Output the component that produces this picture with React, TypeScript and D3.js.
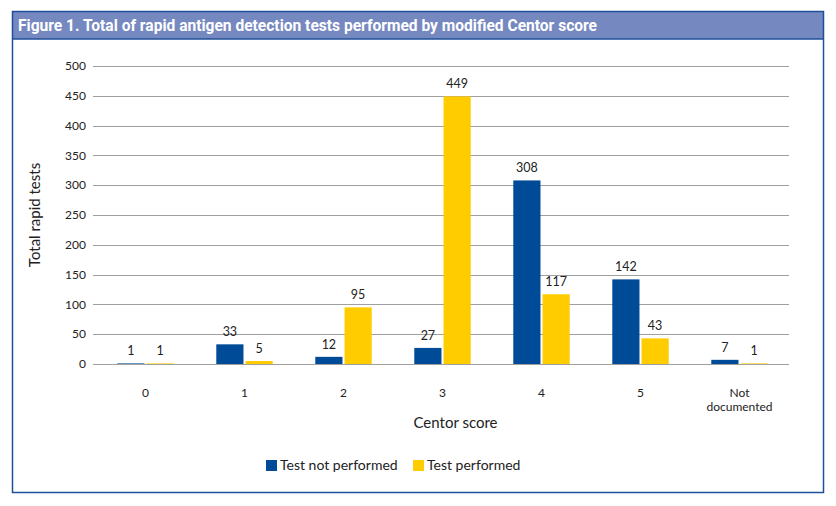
import React, { useEffect, useRef } from 'react';
import * as d3 from 'd3';

const categories = ['0', '1', '2', '3', '4', '5', 'Not documented'];
const seriesNames = ['Test not performed', 'Test performed'];
const notPerformed = [1, 33, 12, 27, 308, 142, 7];
const performed = [1, 5, 95, 449, 117, 43, 1];
const yTicks = [0, 50, 100, 150, 200, 250, 300, 350, 400, 450, 500];
const seriesColors = ['#004b98', '#ffcc00'];

const titleText = 'Figure 1. Total of rapid antigen detection tests performed by modified Centor score';

const App: React.FC = () => {
  const svgRef = useRef<SVGSVGElement>(null);

  useEffect(() => {
    const svg = d3.select(svgRef.current);
    svg.selectAll('*').remove();

    const width = 836;
    const height = 506;
    const plot = { left: 96, right: 789, top: 66, bottom: 364 };
    const font = "Lato, 'Open Sans', sans-serif";

    svg.attr('width', width).attr('height', height);

    // frame + header band
    svg.append('rect')
      .attr('x', 12.5).attr('y', 11.5)
      .attr('width', 811).attr('height', 27.5)
      .style('fill', '#7688c0');
    svg.append('rect')
      .attr('x', 12.5).attr('y', 11.5)
      .attr('width', 811).attr('height', 481)
      .style('fill', 'none')
      .style('stroke', '#1f4f98')
      .style('stroke-width', 1.5);
    svg.append('line')
      .attr('x1', 12.5).attr('x2', 823.5)
      .attr('y1', 39).attr('y2', 39)
      .style('stroke', '#1f4f98')
      .style('stroke-width', 1.5);

    svg.append('text')
      .attr('x', 18)
      .attr('y', 31)
      .attr('textLength', 579)
      .attr('lengthAdjust', 'spacingAndGlyphs')
      .style('font-family', "'Liberation Sans Narrow', 'Roboto', sans-serif")
      .style('font-size', '17px')
      .style('fill', '#ffffff')
      .style('font-weight', 'bold')
      .text(titleText);

    const y = d3.scaleLinear()
      .domain([0, 500])
      .range([plot.bottom, plot.top]);

    const x0 = d3.scaleBand<string>()
      .domain(categories)
      .range([plot.left, plot.right])
      .paddingInner(0.43)
      .paddingOuter(0.215);

    const x1 = d3.scaleBand<string>()
      .domain(seriesNames)
      .range([0, x0.bandwidth()])
      .paddingInner(0.07);

    // gridlines
    svg.append('g')
      .selectAll('line')
      .data(yTicks)
      .enter()
      .append('line')
      .attr('x1', plot.left - 3)
      .attr('x2', plot.right)
      .attr('y1', d => Math.round(y(d)) + 0.5)
      .attr('y2', d => Math.round(y(d)) + 0.5)
      .style('stroke', '#a0a0a0')
      .style('stroke-width', 1);

    // y tick labels
    svg.append('g')
      .selectAll('text')
      .data(yTicks)
      .enter()
      .append('text')
      .attr('x', 86)
      .attr('y', d => y(d))
      .attr('dy', '0.35em')
      .attr('text-anchor', 'end')
      .style('font-family', font)
      .style('font-size', '12px')
      .style('fill', '#222')
      .text(d => d);

    const series = [notPerformed, performed];

    series.forEach((values, s) => {
      const g = svg.append('g');
      g.selectAll('rect')
        .data(values)
        .enter()
        .append('rect')
        .attr('x', (d, i) => x0(categories[i])! + x1(seriesNames[s])!)
        .attr('y', d => y(d))
        .attr('width', x1.bandwidth())
        .attr('height', d => plot.bottom - y(d))
        .style('fill', seriesColors[s]);

      g.selectAll('text')
        .data(values)
        .enter()
        .append('text')
        .attr('x', (d, i) => x0(categories[i])! + x1(seriesNames[s])! + x1.bandwidth() / 2)
        .attr('y', d => y(d) - 8)
        .attr('text-anchor', 'middle')
        .style('font-family', font)
        .style('font-size', '12.5px')
        .style('fill', '#222')
        .text(d => d);
    });

    // x tick labels (multi-word labels wrap onto separate lines)
    const xLabels = svg.append('g');
    categories.forEach(c => {
      const lines = c === 'Not documented' ? ['Not', 'documented'] : [c];
      lines.forEach((w, i) => {
        xLabels.append('text')
          .attr('x', x0(c)! + x0.bandwidth() / 2)
          .attr('y', 397 + i * 14)
          .attr('text-anchor', 'middle')
          .style('font-family', font)
          .style('font-size', '12px')
          .style('fill', '#222')
          .text(w);
      });
    });

    // axis titles
    svg.append('text')
      .attr('x', (plot.left + plot.right) / 2 + 13)
      .attr('y', 428)
      .attr('text-anchor', 'middle')
      .style('font-family', font)
      .style('font-size', '15px')
      .style('fill', '#222')
      .text('Centor score');

    svg.append('text')
      .attr('transform', `translate(40, ${(plot.top + plot.bottom) / 2}) rotate(-90)`)
      .attr('text-anchor', 'middle')
      .style('font-family', font)
      .style('font-size', '15px')
      .style('fill', '#222')
      .text('Total rapid tests');

    // legend
    const legendX = [266, 413];
    const legend = svg.append('g');
    seriesNames.forEach((name, i) => {
      legend.append('rect')
        .attr('x', legendX[i])
        .attr('y', 460)
        .attr('width', 11)
        .attr('height', 11)
        .style('fill', seriesColors[i]);
      legend.append('text')
        .attr('x', legendX[i] + 14)
        .attr('y', 470)
        .style('font-family', font)
        .style('font-size', '14px')
        .style('fill', '#222')
        .text(name);
    });
  }, []);

  return (
    <div style={{ position: 'absolute', left: 0, top: 0, background: '#fff' }}>
      <svg ref={svgRef} style={{ display: 'block' }}></svg>
    </div>
  );
};

export default App;
